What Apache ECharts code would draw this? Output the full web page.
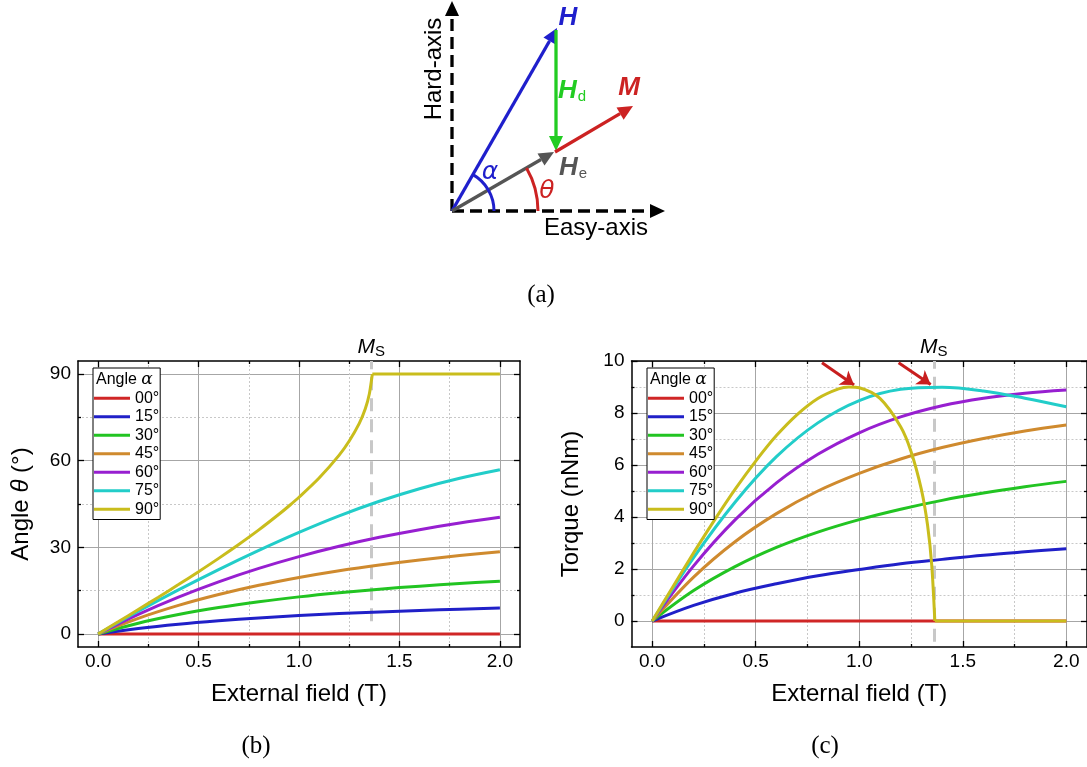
<!DOCTYPE html>
<html>
<head>
<meta charset="utf-8">
<script src="https://cdn.jsdelivr.net/npm/echarts@6.0.0/dist/echarts.min.js"></script>
<style>
html, body { margin: 0; padding: 0; background: #fff; }
#main { width: 1087px; height: 767px; }
</style>
</head>
<body>
<div id="main"></div>
<script>
// values
var alphaNames = ['00°', '15°', '30°', '45°', '60°', '75°', '90°'];
var lineColors = ['#d02626', '#2020c8', '#22c422', '#cf8a2e', '#971fd0', '#22cdc9', '#c9bd1c'];

var field = [0, 0.2, 0.4, 0.6, 0.8, 1.0, 1.2, 1.4, 1.6, 1.8, 2.0];
var angle00 = [0, 0, 0, 0, 0, 0, 0, 0, 0, 0, 0];
var angle15 = [0, 1.91, 3.40, 4.58, 5.56, 6.37, 7.06, 7.64, 8.15, 8.59, 8.98];
var angle30 = [0, 3.74, 6.72, 9.15, 11.16, 12.85, 14.28, 15.51, 16.57, 17.49, 18.30];
var angle45 = [0, 5.40, 9.89, 13.66, 16.86, 19.58, 21.91, 23.91, 25.64, 27.14, 28.45];
var angle60 = [0, 6.81, 12.79, 18.07, 22.72, 26.80, 30.37, 33.46, 36.12, 38.42, 40.39];
var angle75 = [0, 7.86, 15.27, 22.30, 28.94, 35.17, 40.89, 45.96, 50.30, 53.92, 56.87];

var torque00 = [0, 0, 0, 0, 0, 0, 0, 0, 0, 0, 0];
var torque15 = [0, 0.60, 1.07, 1.43, 1.74, 1.98, 2.20, 2.37, 2.53, 2.66, 2.78];
var torque30 = [0, 1.17, 2.09, 2.83, 3.42, 3.90, 4.30, 4.64, 4.92, 5.16, 5.37];
var torque45 = [0, 1.69, 3.05, 4.13, 5.00, 5.68, 6.23, 6.67, 7.02, 7.31, 7.54];
var torque60 = [0, 2.12, 3.89, 5.31, 6.41, 7.24, 7.85, 8.28, 8.57, 8.76, 8.88];
var torque75 = [0, 2.44, 4.57, 6.32, 7.62, 8.48, 8.91, 8.99, 8.85, 8.57, 8.24];

// the 90° curves bend sharply near saturation, so they are read more densely
var field90 = [0, 0.1, 0.2, 0.3, 0.4, 0.5, 0.6, 0.7, 0.8, 0.9, 0.95, 1.0, 1.1, 1.2, 1.25, 1.3, 1.33, 1.35, 1.365, 2.0];
var angle90 = [0, 4.22, 8.46, 12.74, 17.10, 21.57, 26.18, 30.98, 36.03, 41.44, 44.31, 47.33, 53.98, 61.93, 66.81, 72.90, 77.94, 83.05, 90, 90];
var torque90 = [0, 1.32, 2.62, 3.87, 5.06, 6.15, 7.13, 7.94, 8.56, 8.93, 9.00, 8.97, 8.56, 7.47, 6.52, 5.06, 3.68, 2.16, 0, 0];
var kink90 = 18; // index where the 90° curves saturate

var MS = 1.36;
var msAngleSpan = [4.4, 94.5];
var msTorqueSpan = [-0.8, 10];
// red arrows pointing at the torque maxima: [start, tip]
var peakArrows = [[[0.82, 9.93], [0.975, 9.08]], [[1.19, 9.93], [1.345, 9.1]]];

var xMajor = [0, 0.5, 1.0, 1.5, 2.0];
var xMinor = [0.25, 0.75, 1.25, 1.75];
var angleMajor = [0, 30, 60, 90];
var angleMinor = [15, 45, 75];
var torqueMajor = [0, 2, 4, 6, 8, 10];
var torqueMinor = [1, 3, 5, 7, 9];

var FONT = "'Liberation Sans', Arial, sans-serif";
var myChart = echarts.init(document.getElementById('main'));

function pairs(xs, ys) {
    return xs.map(function (x, i) { return [x, ys[i]]; });
}

var nameRich = {
    a: {fontFamily: FONT, fontSize: 24, color: '#000'},
    t: {fontFamily: FONT, fontSize: 24, fontStyle: 'italic', color: '#000'}
};

function axisGroup(gi, near, far, min, max, major, minor, fmt, name, gap, margin) {
    var tick = {color: '#000', width: 1.3};
    var common = {gridIndex: gi, type: 'value', min: min, max: max, axisPointer: {show: false}};
    return [
        Object.assign({}, common, {
            position: near, name: name, nameLocation: 'middle', nameGap: gap,
            nameTextStyle: {fontFamily: FONT, fontSize: 24, color: '#000', rich: nameRich},
            axisLine: {show: true, onZero: false, lineStyle: {color: '#000', width: 1.5}},
            axisTick: {show: true, inside: true, length: 6, customValues: major, lineStyle: tick},
            axisLabel: {show: true, customValues: major, formatter: fmt, margin: margin,
                fontFamily: FONT, fontSize: 19, color: '#000'},
            splitLine: {show: true, lineStyle: {color: '#a6a6a6', width: 1}}
        }),
        Object.assign({}, common, {
            position: near,
            axisLine: {show: false, onZero: false},
            axisTick: {show: true, inside: true, length: 3, customValues: minor, lineStyle: tick},
            axisLabel: {show: false, customValues: minor},
            splitLine: {show: true, lineStyle: {color: '#c8c8c8', width: 1, type: [2, 2]}}
        }),
        Object.assign({}, common, {
            position: far,
            axisLine: {show: true, onZero: false, lineStyle: {color: '#000', width: 1.5}},
            axisTick: {show: true, inside: true, length: 6, customValues: major, lineStyle: tick},
            axisLabel: {show: false, customValues: major},
            splitLine: {show: false}
        }),
        Object.assign({}, common, {
            position: far,
            axisLine: {show: false, onZero: false},
            axisTick: {show: true, inside: true, length: 3, customValues: minor, lineStyle: tick},
            axisLabel: {show: false, customValues: minor},
            splitLine: {show: false}
        })
    ];
}

function fmtX(v) { return v.toFixed(1); }
function fmtY(v) { return String(v); }

function curve(name, color, data, axisIdx, smooth) {
    return {
        name: name, type: 'line', xAxisIndex: axisIdx, yAxisIndex: axisIdx,
        data: data, symbol: 'none', showSymbol: false, smooth: smooth,
        clip: false, z: 10,
        lineStyle: {color: color, width: 3},
        itemStyle: {color: color}
    };
}

var msLabel = {
    show: true, position: 'end', distance: 2,
    formatter: '{m|M}{s|S}',
    rich: {
        m: {fontFamily: FONT, fontSize: 21, fontStyle: 'italic', color: '#000'},
        s: {fontFamily: FONT, fontSize: 15, color: '#000', padding: [9, 0, 0, 0]}
    }
};

function msLine(span) {
    return {
        silent: true, symbol: ['none', 'none'], animation: false,
        lineStyle: {color: '#c8c8c8', width: 3, type: [13, 8]},
        label: msLabel,
        data: [[{coord: [MS, span[0]]}, {coord: [MS, span[1]]}]]
    };
}

var angleSets = [angle00, angle15, angle30, angle45, angle60, angle75];
var torqueSets = [torque00, torque15, torque30, torque45, torque60, torque75];

function panelSeries(sets, ys90, axisIdx) {
    var out = sets.map(function (ys, i) {
        return curve(alphaNames[i], lineColors[i], pairs(field, ys), axisIdx, i === 0 ? false : 0.35);
    });
    var all90 = pairs(field90, ys90);
    // curved part smoothed, saturated part straight (same legend entry)
    out.push(curve(alphaNames[6], lineColors[6], all90.slice(0, kink90 + 1), axisIdx, 0.3));
    out.push(curve(alphaNames[6], lineColors[6], all90.slice(kink90), axisIdx, false));
    return out;
}

var angleSeries = panelSeries(angleSets, angle90, 0);
var torqueSeries = panelSeries(torqueSets, torque90, 4);
angleSeries[0].markLine = msLine(msAngleSpan);
torqueSeries[0].markLine = msLine(msTorqueSpan);
torqueSeries[1].markLine = {
    silent: true, symbol: ['none', 'arrow'], symbolSize: 13, animation: false,
    lineStyle: {color: '#c81e1e', width: 3, type: 'solid'},
    label: {show: false},
    data: peakArrows.map(function (a) { return [{coord: a[0]}, {coord: a[1]}]; })
};

function legendAt(left) {
    return {
        data: alphaNames, orient: 'vertical', left: left, top: 368,
        icon: 'rect', itemWidth: 36, itemHeight: 3, itemGap: 0,
        padding: [21, 1, 1, 1], borderColor: '#000', borderWidth: 1,
        backgroundColor: '#fff', selectedMode: false, z: 20,
        textStyle: {fontFamily: FONT, fontSize: 16, lineHeight: 18.5, color: '#000'}
    };
}

// schematic (a)
var O = [452, 211];
var C = {blue: '#1f1fcc', green: '#22cc22', red: '#cc2222', gray: '#555555'};

function arrowEls(x1, y1, x2, y2, color, width, dash) {
    var dx = x2 - x1, dy = y2 - y1, len = Math.sqrt(dx * dx + dy * dy);
    var ux = dx / len, uy = dy / len, hl = 15, hw = 7;
    var bx = x2 - ux * hl, by = y2 - uy * hl;
    return [
        {type: 'line', shape: {x1: x1, y1: y1, x2: bx, y2: by},
            style: {stroke: color, lineWidth: width, lineDash: dash || null}},
        {type: 'polygon', shape: {points: [[x2, y2], [bx - uy * hw, by + ux * hw], [bx + uy * hw, by - ux * hw]]},
            style: {fill: color}}
    ];
}

function label(x, y, text, color, font, rich) {
    return {type: 'text', x: x, y: y,
        style: {text: text, fill: color, font: font, align: 'center', verticalAlign: 'middle', rich: rich}};
}

var subRich = function (color) {
    return {
        h: {font: "italic bold 26px 'Liberation Sans'", fill: color},
        s: {font: "15px 'Liberation Sans'", fill: color, padding: [11, 0, 0, 1]}
    };
};

var schematic = []
    .concat(arrowEls(O[0], O[1], O[0], 1, '#000', 3.3, [12, 6]))
    .concat(arrowEls(O[0], O[1], 665, O[1], '#000', 3.3, [12, 6]))
    .concat(arrowEls(O[0], O[1], 557, 28, C.blue, 3.3))
    .concat(arrowEls(556, 30, 556, 151, C.green, 3.3))
    .concat(arrowEls(555, 152, 633, 106, C.red, 3.3))
    .concat(arrowEls(O[0], O[1], 554, 152, C.gray, 3.3))
    .concat([
        {type: 'arc', shape: {cx: O[0], cy: O[1], r: 42, startAngle: -Math.PI / 3, endAngle: 0},
            style: {stroke: C.blue, lineWidth: 3, fill: null}},
        {type: 'arc', shape: {cx: O[0], cy: O[1], r: 86, startAngle: -Math.PI / 6, endAngle: 0},
            style: {stroke: C.red, lineWidth: 3, fill: null}},
        {type: 'text', x: 434, y: 69, rotation: Math.PI / 2,
            style: {text: 'Hard-axis', fill: '#000', font: "24px 'Liberation Sans'", align: 'center', verticalAlign: 'middle'}},
        label(596, 228, 'Easy-axis', '#000', "24px 'Liberation Sans'"),
        label(568, 18, 'H', C.blue, "italic bold 26px 'Liberation Sans'"),
        label(572, 91, '{h|H}{s|d}', C.green, "26px 'Liberation Sans'", subRich(C.green)),
        label(629, 88, 'M', C.red, "italic bold 26px 'Liberation Sans'"),
        label(573, 168, '{h|H}{s|e}', C.gray, "26px 'Liberation Sans'", subRich(C.gray)),
        label(490, 172, 'α', C.blue, "italic 25px 'DejaVu Sans'"),
        label(547, 191, 'θ', C.red, "italic 25px 'DejaVu Sans'"),
        label(541, 295, '(a)', '#000', "25px 'Liberation Serif'"),
        label(256, 746, '(b)', '#000', "25px 'Liberation Serif'"),
        label(825, 746, '(c)', '#000', "25px 'Liberation Serif'")
    ]);

var legendTitleRich = {
    a: {font: "16px 'Liberation Sans'", fill: '#000'},
    g: {font: "italic 17px 'DejaVu Serif'", fill: '#000'}
};
schematic.push({type: 'text', x: 96, y: 380, z: 40,
    style: {text: '{a|Angle }{g|α}', align: 'left', verticalAlign: 'middle', rich: legendTitleRich}});
schematic.push({type: 'text', x: 650, y: 380, z: 40,
    style: {text: '{a|Angle }{g|α}', align: 'left', verticalAlign: 'middle', rich: legendTitleRich}});

var option = {
    animation: false,
    backgroundColor: '#fff',
    grid: [
        {left: 78, top: 361, width: 442, height: 286},
        {left: 631.5, top: 361, width: 459.5, height: 286}
    ],
    xAxis: axisGroup(0, 'bottom', 'top', -0.1, 2.1, xMajor, xMinor, fmtX, 'External field (T)', 35, 5)
        .concat(axisGroup(1, 'bottom', 'top', -0.1, 2.1, xMajor, xMinor, fmtX, 'External field (T)', 35, 5)),
    yAxis: axisGroup(0, 'left', 'right', -4.5, 94.5, angleMajor, angleMinor, fmtY, '{a|Angle }{t|θ}{a| (°)}', 45, 7)
        .concat(axisGroup(1, 'left', 'right', -1, 10, torqueMajor, torqueMinor, fmtY, 'Torque (nNm)', 48, 7)),
    legend: [legendAt(93), legendAt(647)],
    graphic: {elements: schematic.map(function (e) { if (e.z === undefined) { e.z = 30; } return e; })},
    series: angleSeries.concat(torqueSeries)
};
myChart.setOption(option);
</script>
</body>
</html>
